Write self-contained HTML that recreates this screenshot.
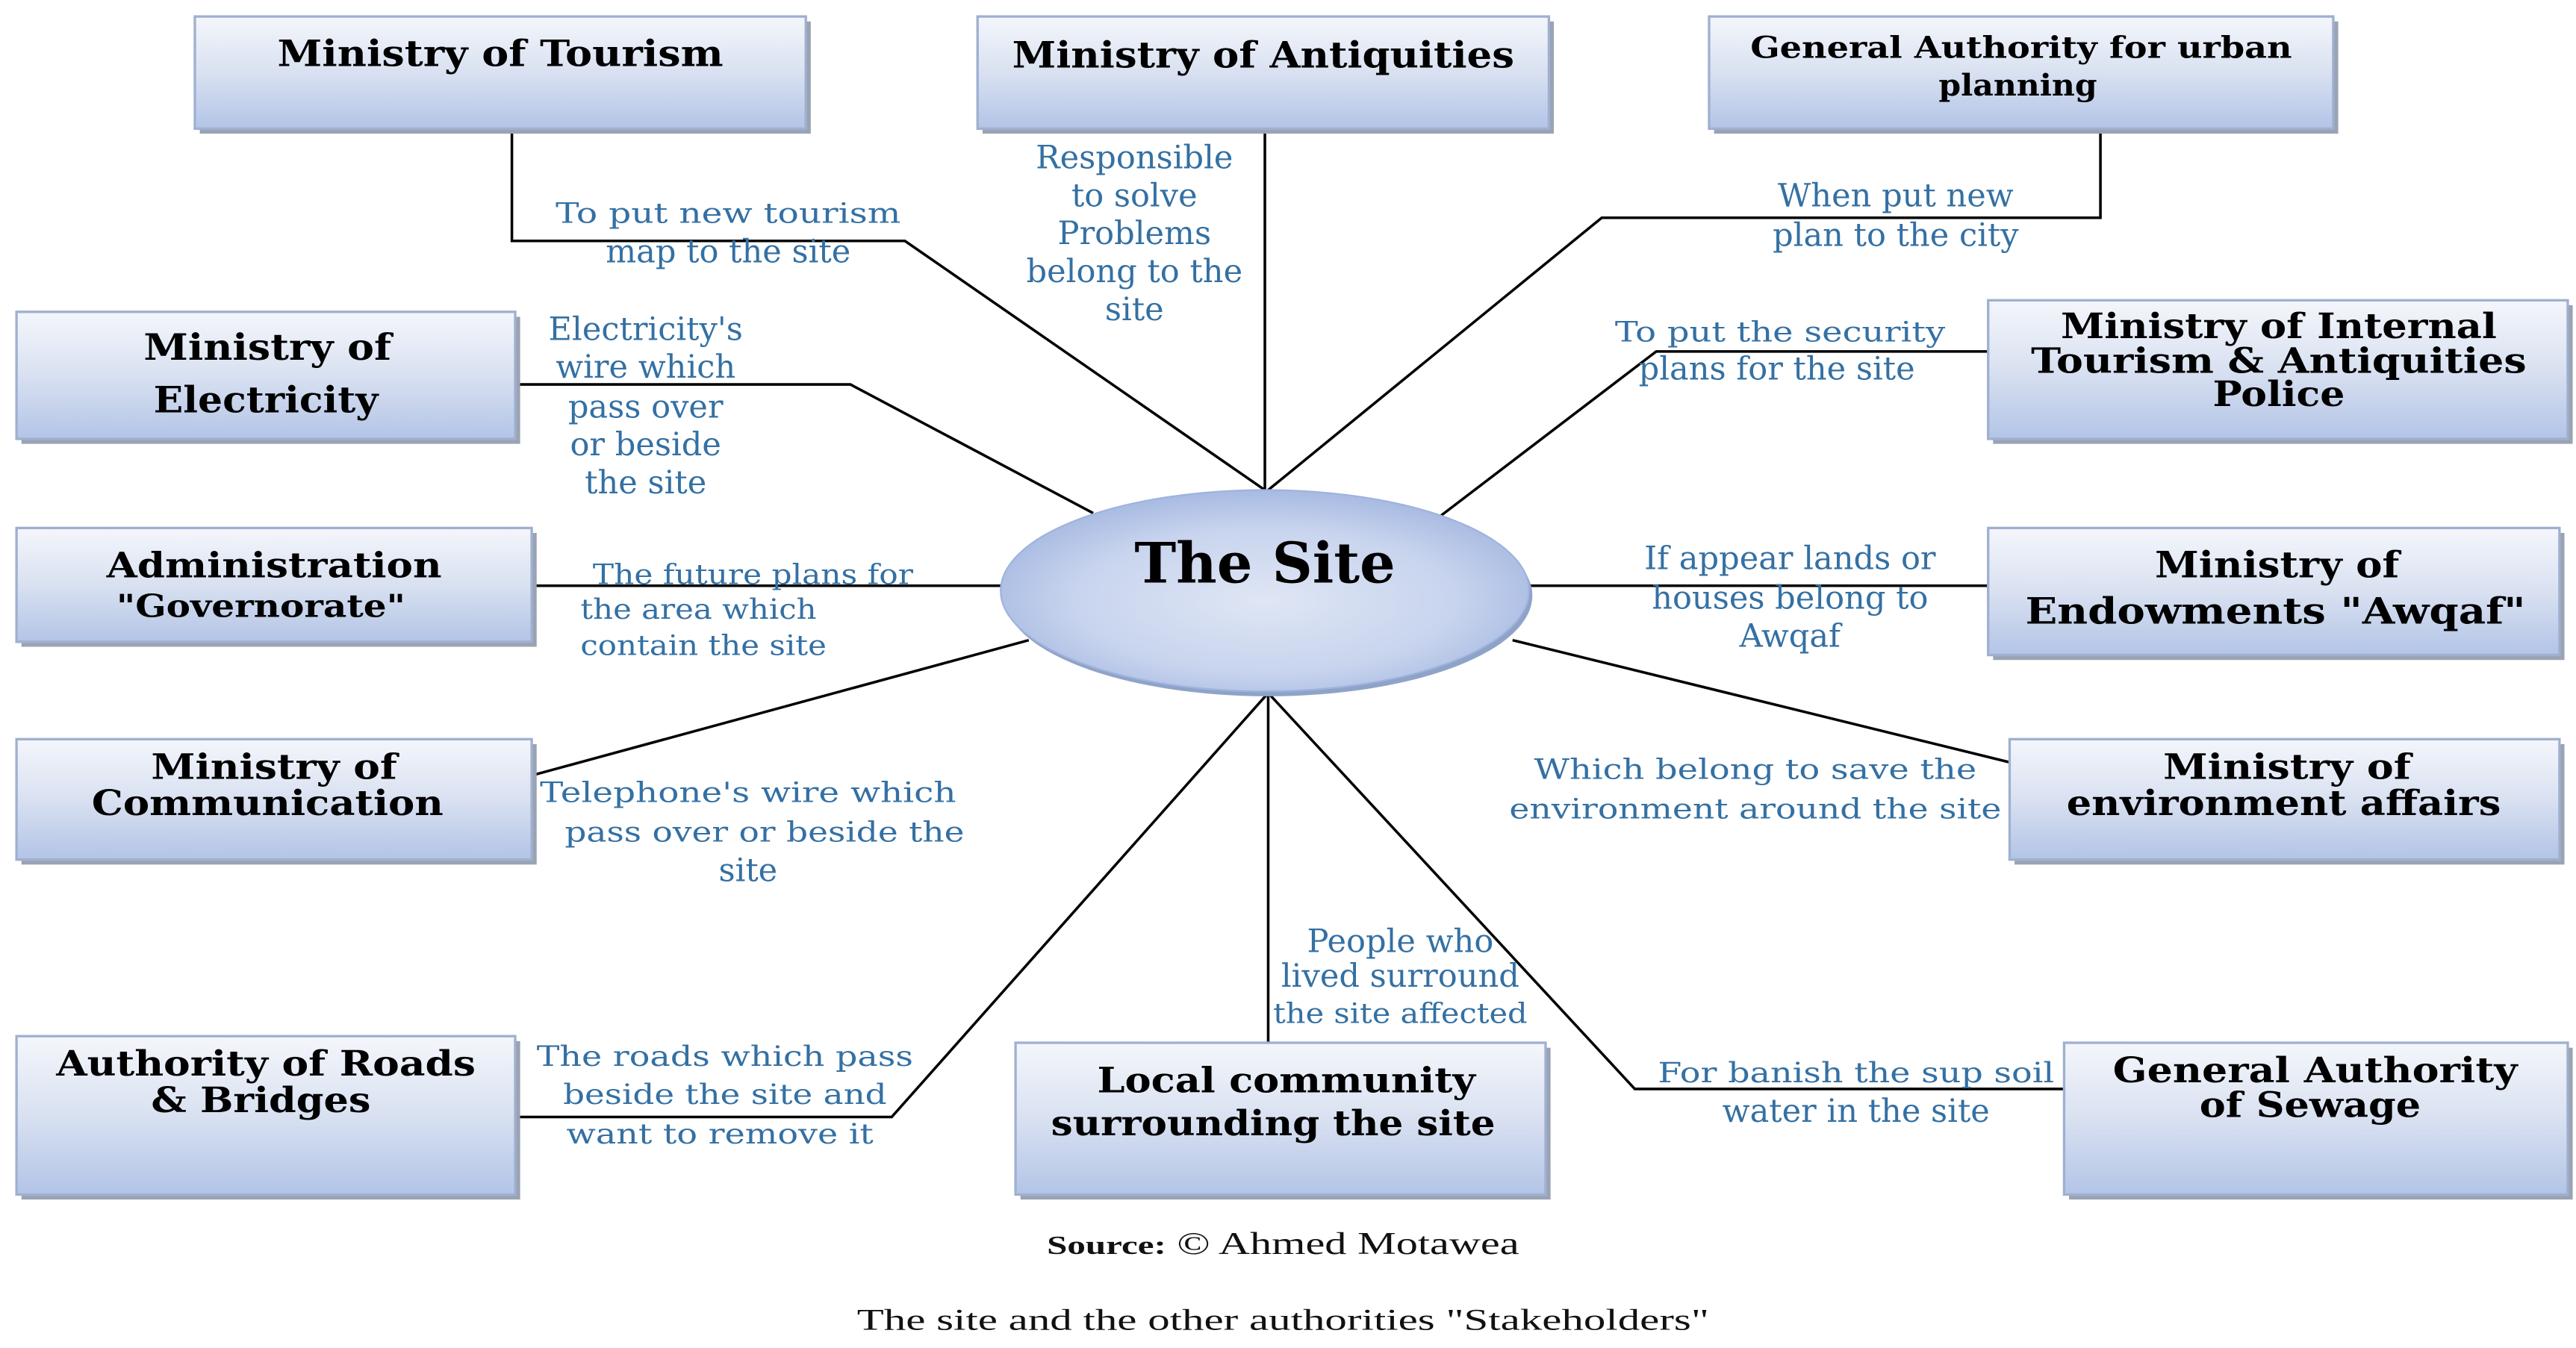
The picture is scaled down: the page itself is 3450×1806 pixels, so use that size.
<!DOCTYPE html>
<html><head><meta charset="utf-8"><style>
html,body{margin:0;padding:0;background:#fff;}
svg{display:block;}
.t{font-family:"DejaVu Serif","Liberation Serif",serif;font-weight:bold;fill:#000;text-anchor:middle;}
.l{font-family:"DejaVu Serif","Liberation Serif",serif;fill:#3470a3;text-anchor:middle;font-size:17px;}
.m{font-size:19.5px;}
.c{stroke:#000;stroke-width:1.6;fill:none;}
</style></head><body>
<svg width="3450" height="1806" viewBox="0 0 1560 817" preserveAspectRatio="none" xmlns="http://www.w3.org/2000/svg">
<defs>
<linearGradient id="bg" x1="0" y1="0" x2="0" y2="1">
<stop offset="0" stop-color="#f4f6fb"/><stop offset="0.5" stop-color="#d9e1f1"/><stop offset="1" stop-color="#b3c4e6"/></linearGradient>
<radialGradient id="eg" cx="0.5" cy="0.55" r="0.6">
<stop offset="0" stop-color="#dfe6f4"/><stop offset="0.6" stop-color="#c8d4ee"/><stop offset="1" stop-color="#9fb3de"/></radialGradient>
</defs>

<polyline class="c" points="310,78 310,146 548,146 766,297"/>
<line class="c" x1="766" y1="78" x2="766" y2="297"/>
<polyline class="c" points="1272,78 1272,132 970,132 768,297"/>
<polyline class="c" points="312,233 515,233 662,311"/>
<polyline class="c" points="1204,213 1003,213 872,313"/>
<line class="c" x1="322" y1="355" x2="606" y2="355"/>
<line class="c" x1="926" y1="355" x2="1204" y2="355"/>
<line class="c" x1="322" y1="470" x2="623" y2="388"/>
<line class="c" x1="916" y1="388" x2="1217" y2="462"/>
<polyline class="c" points="312,677 540,677 768,420"/>
<line class="c" x1="768" y1="420" x2="768" y2="632"/>
<polyline class="c" points="768,420 990,660 1250,660"/>

<g stroke="#9fb0d0" stroke-width="1.5" fill="url(#bg)">
<rect x="121" y="13" width="370" height="68" fill="#9aa3b3" stroke="none"/>
<rect x="118" y="10" width="370" height="68"/>
<rect x="595" y="13" width="346" height="68" fill="#9aa3b3" stroke="none"/>
<rect x="592" y="10" width="346" height="68"/>
<rect x="1038" y="13" width="378" height="68" fill="#9aa3b3" stroke="none"/>
<rect x="1035" y="10" width="378" height="68"/>
<rect x="13" y="192" width="302" height="77" fill="#9aa3b3" stroke="none"/>
<rect x="10" y="189" width="302" height="77"/>
<rect x="1207" y="185" width="351" height="84" fill="#9aa3b3" stroke="none"/>
<rect x="1204" y="182" width="351" height="84"/>
<rect x="13" y="323" width="312" height="69" fill="#9aa3b3" stroke="none"/>
<rect x="10" y="320" width="312" height="69"/>
<rect x="1207" y="323" width="346" height="77" fill="#9aa3b3" stroke="none"/>
<rect x="1204" y="320" width="346" height="77"/>
<rect x="13" y="451" width="312" height="73" fill="#9aa3b3" stroke="none"/>
<rect x="10" y="448" width="312" height="73"/>
<rect x="1220" y="451" width="333" height="73" fill="#9aa3b3" stroke="none"/>
<rect x="1217" y="448" width="333" height="73"/>
<rect x="13" y="631" width="302" height="96" fill="#9aa3b3" stroke="none"/>
<rect x="10" y="628" width="302" height="96"/>
<rect x="618" y="635" width="321" height="92" fill="#9aa3b3" stroke="none"/>
<rect x="615" y="632" width="321" height="92"/>
<rect x="1253" y="635" width="305" height="92" fill="#9aa3b3" stroke="none"/>
<rect x="1250" y="632" width="305" height="92"/>
</g>

<ellipse cx="768" cy="361" rx="160" ry="61" fill="#8fa3c8"/>
<ellipse cx="766" cy="358" rx="160" ry="61" fill="url(#eg)" stroke="#9fb3de" stroke-width="1"/>
<text class="t" x="766" y="353" font-size="34" textLength="158" lengthAdjust="spacingAndGlyphs">The Site</text>

<text class="t" x="303" y="40" font-size="22" textLength="270" lengthAdjust="spacingAndGlyphs">Ministry of Tourism</text>
<text class="t" x="765" y="41" font-size="22" textLength="304" lengthAdjust="spacingAndGlyphs">Ministry of Antiquities</text>
<text class="t" x="1224" y="35" font-size="18" textLength="328" lengthAdjust="spacingAndGlyphs">General Authority for urban</text>
<text class="t" x="1222" y="58" font-size="18" textLength="96" lengthAdjust="spacingAndGlyphs">planning</text>
<text class="t" x="162" y="218" font-size="22" textLength="150" lengthAdjust="spacingAndGlyphs">Ministry of</text>
<text class="t" x="161" y="250" font-size="22" textLength="136" lengthAdjust="spacingAndGlyphs">Electricity</text>
<text class="t" x="1380" y="205" font-size="21" textLength="264" lengthAdjust="spacingAndGlyphs">Ministry of Internal</text>
<text class="t" x="1380" y="226" font-size="21" textLength="300" lengthAdjust="spacingAndGlyphs">Tourism &amp; Antiquities</text>
<text class="t" x="1380" y="246" font-size="21" textLength="80" lengthAdjust="spacingAndGlyphs">Police</text>
<text class="t" x="166" y="350" font-size="21" textLength="203" lengthAdjust="spacingAndGlyphs">Administration</text>
<text class="t" x="158" y="374" font-size="19" textLength="175" lengthAdjust="spacingAndGlyphs">"Governorate"</text>
<text class="t" x="1379" y="350" font-size="22" textLength="148" lengthAdjust="spacingAndGlyphs">Ministry of</text>
<text class="t" x="1378" y="378" font-size="22" textLength="303" lengthAdjust="spacingAndGlyphs">Endowments "Awqaf"</text>
<text class="t" x="166" y="472" font-size="21" textLength="149" lengthAdjust="spacingAndGlyphs">Ministry of</text>
<text class="t" x="162" y="494" font-size="21" textLength="213" lengthAdjust="spacingAndGlyphs">Communication</text>
<text class="t" x="1385" y="472" font-size="21" textLength="150" lengthAdjust="spacingAndGlyphs">Ministry of</text>
<text class="t" x="1383" y="494" font-size="21" textLength="263" lengthAdjust="spacingAndGlyphs">environment affairs</text>
<text class="t" x="161" y="652" font-size="21" textLength="254" lengthAdjust="spacingAndGlyphs">Authority of Roads</text>
<text class="t" x="158" y="674" font-size="21" textLength="133" lengthAdjust="spacingAndGlyphs">&amp; Bridges</text>
<text class="t" x="779" y="662" font-size="21" textLength="229" lengthAdjust="spacingAndGlyphs">Local community</text>
<text class="t" x="771" y="688" font-size="21" textLength="269" lengthAdjust="spacingAndGlyphs">surrounding the site</text>
<text class="t" x="1402" y="656" font-size="21" textLength="245" lengthAdjust="spacingAndGlyphs">General Authority</text>
<text class="t" x="1399" y="677" font-size="21" textLength="134" lengthAdjust="spacingAndGlyphs">of Sewage</text>

<text class="l" x="441" y="135" textLength="209" lengthAdjust="spacingAndGlyphs">To put new tourism</text>
<text class="l m" x="441" y="159">map to the site</text>
<text class="l m" x="687" y="102">Responsible</text>
<text class="l m" x="687" y="125">to solve</text>
<text class="l m" x="687" y="148">Problems</text>
<text class="l m" x="687" y="171">belong to the</text>
<text class="l m" x="687" y="194">site</text>
<text class="l m" x="1148" y="125">When put new</text>
<text class="l m" x="1148" y="149">plan to the city</text>
<text class="l m" x="391" y="206">Electricity's</text>
<text class="l m" x="391" y="229">wire which</text>
<text class="l m" x="391" y="253">pass over</text>
<text class="l m" x="391" y="276">or beside</text>
<text class="l m" x="391" y="299">the site</text>
<text class="l" x="1078" y="207" textLength="200" lengthAdjust="spacingAndGlyphs">To put the security</text>
<text class="l m" x="1076" y="230">plans for the site</text>
<text class="l" x="456" y="354" font-size="16" textLength="194" lengthAdjust="spacingAndGlyphs">The future plans for</text>
<text class="l" x="423" y="375" font-size="17" textLength="143" lengthAdjust="spacingAndGlyphs">the area which</text>
<text class="l" x="426" y="397" font-size="17" textLength="149" lengthAdjust="spacingAndGlyphs">contain the site</text>
<text class="l m" x="1084" y="345">If appear lands or</text>
<text class="l m" x="1084" y="369">houses belong to</text>
<text class="l m" x="1084" y="392">Awqaf</text>
<text class="l" x="453" y="486" textLength="252" lengthAdjust="spacingAndGlyphs">Telephone's wire which</text>
<text class="l" x="463" y="510" textLength="242" lengthAdjust="spacingAndGlyphs">pass over or beside the</text>
<text class="l m" x="453" y="534">site</text>
<text class="l" x="1063" y="472" textLength="268" lengthAdjust="spacingAndGlyphs">Which belong to save the</text>
<text class="l" x="1063" y="496" textLength="298" lengthAdjust="spacingAndGlyphs">environment around the site</text>
<text class="l m" x="848" y="577">People who</text>
<text class="l m" x="848" y="598">lived surround</text>
<text class="l" x="848" y="620" textLength="154" lengthAdjust="spacingAndGlyphs">the site affected</text>
<text class="l" x="439" y="646" textLength="228" lengthAdjust="spacingAndGlyphs">The roads which pass</text>
<text class="l" x="439" y="669" textLength="196" lengthAdjust="spacingAndGlyphs">beside the site and</text>
<text class="l" x="436" y="693" textLength="186" lengthAdjust="spacingAndGlyphs">want to remove it</text>
<text class="l" x="1124" y="656" textLength="240" lengthAdjust="spacingAndGlyphs">For banish the sup soil</text>
<text class="l m" x="1124" y="680">water in the site</text>

<text x="777" y="760" text-anchor="middle" font-family="'Liberation Serif',serif" font-size="19" fill="#111" textLength="286" lengthAdjust="spacingAndGlyphs"><tspan font-weight="bold" font-size="16">Source:</tspan> © Ahmed Motawea</text>
<text x="777" y="806" text-anchor="middle" font-family="'Liberation Serif',serif" font-size="18" fill="#111" textLength="516" lengthAdjust="spacingAndGlyphs">The site and the other authorities "Stakeholders"</text>
</svg>
</body></html>
